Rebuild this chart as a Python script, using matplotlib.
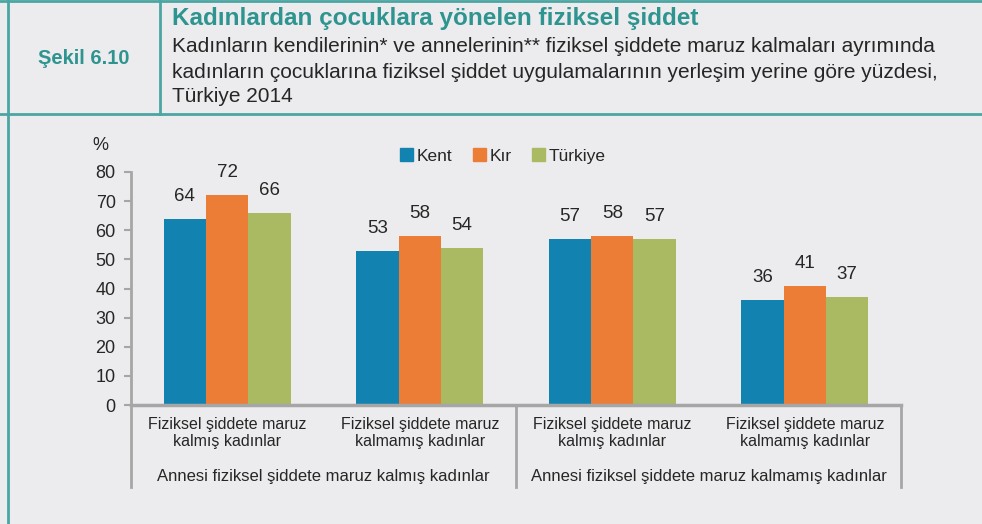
import matplotlib.pyplot as plt
from matplotlib.lines import Line2D
from matplotlib.patches import Patch
import numpy as np

# data
kategoriler = ["Fiziksel şiddete maruz\nkalmış kadınlar",
               "Fiziksel şiddete maruz\nkalmamış kadınlar",
               "Fiziksel şiddete maruz\nkalmış kadınlar",
               "Fiziksel şiddete maruz\nkalmamış kadınlar"]
gruplar = ["Annesi fiziksel şiddete maruz kalmış kadınlar",
           "Annesi fiziksel şiddete maruz kalmamış kadınlar"]
seriler = ["Kent", "Kır", "Türkiye"]
kent = [64, 53, 57, 36]
kir = [72, 58, 58, 41]
turkiye = [66, 54, 57, 37]
yticks = [0, 10, 20, 30, 40, 50, 60, 70, 80]

renkler = ['#1283B0', '#EC7D36', '#A9BA63']
teal = '#4BA5A2'
yazi = '#262626'
gri = '#A6A6A6'
bg = '#ECECEE'

plt.rcParams['font.family'] = ['Liberation Sans', 'DejaVu Sans']

fig = plt.figure(figsize=(9.82, 5.24), dpi=100, facecolor=bg)
W, H = 982, 524

def fx(px):
    return px / W

def fy(py):
    return 1 - py / H

# header frame
fig.add_artist(Line2D([0, 1], [fy(1), fy(1)], color=teal, lw=2))
fig.add_artist(Line2D([0, 1], [fy(114), fy(114)], color=teal, lw=2))
fig.add_artist(Line2D([fx(8), fx(8)], [0, fy(1)], color=teal, lw=2))
fig.add_artist(Line2D([fx(160), fx(160)], [fy(114), fy(1)], color=teal, lw=2))

fig.text(fx(84), fy(58), "Şekil 6.10", color='#2E9490', fontsize=14.5,
         fontweight='bold', ha='center', va='center')
fig.text(fx(172), fy(19), "Kadınlardan çocuklara yönelen fiziksel şiddet",
         color='#2E9490', fontsize=17.5, fontweight='bold', ha='left', va='center')
alt = ["Kadınların kendilerinin* ve annelerinin** fiziksel şiddete maruz kalmaları ayrımında",
       "kadınların çocuklarına fiziksel şiddet uygulamalarının yerleşim yerine göre yüzdesi,",
       "Türkiye 2014"]
for i, s in enumerate(alt):
    fig.text(fx(172), fy(47 + 25 * i), s, color=yazi, fontsize=15,
             ha='left', va='center')

# chart
ax = fig.add_axes([fx(131), fy(405), fx(901) - fx(131), fy(172) - fy(405)])
ax.set_facecolor(bg)
x = np.arange(len(kategoriler))
w = 0.22
for i, (vals, ad) in enumerate(zip([kent, kir, turkiye], seriler)):
    bars = ax.bar(x + (i - 1) * w, vals, w, color=renkler[i], label=ad)
    for b, v in zip(bars, vals):
        ax.annotate(f"{v}", (b.get_x() + b.get_width() / 2, v),
                    xytext=(0, 10), textcoords='offset points',
                    ha='center', va='bottom', fontsize=13.5, color=yazi)

ax.set_xlim(-0.5, 3.5)
ax.set_ylim(0, 80)
ax.set_yticks(yticks)
ax.tick_params(axis='y', length=5, width=1.5, color=gri, labelsize=13,
               labelcolor=yazi, pad=6)
ax.set_xticks([])
for s in ['top', 'right']:
    ax.spines[s].set_visible(False)
ax.spines['left'].set_color(gri)
ax.spines['left'].set_linewidth(2)
ax.spines['bottom'].set_color(gri)
ax.spines['bottom'].set_linewidth(2.5)

alt_y = -(487 - 405) / (405 - 172)
for xs in [-0.5, 1.5, 3.5]:
    ax.plot([xs, xs], [0, alt_y], transform=ax.get_xaxis_transform(),
            color=gri, lw=2, clip_on=False)

for xi, k in zip(x, kategoriler):
    ax.text(xi, -(433 - 405) / 233, k, transform=ax.get_xaxis_transform(),
            ha='center', va='center', fontsize=11.5, color=yazi,
            linespacing=1.1)
for gi, g in enumerate(gruplar):
    ax.text(0.5 + 2 * gi, -(477 - 405) / 233, g,
            transform=ax.get_xaxis_transform(),
            ha='center', va='center', fontsize=12, color=yazi)

fig.text(fx(100), fy(145), "%", fontsize=13, color=yazi, ha='center', va='center')

handles = [Patch(color=c) for c in renkler]
fig.legend(handles, seriler, loc='center', bbox_to_anchor=(fx(503), fy(156)),
           ncol=3, frameon=False, fontsize=12.5, handlelength=0.75,
           handleheight=0.75, handletextpad=0.2, columnspacing=1.2,
           labelcolor=yazi)

fig.savefig("out.png", dpi=100, facecolor=bg)
